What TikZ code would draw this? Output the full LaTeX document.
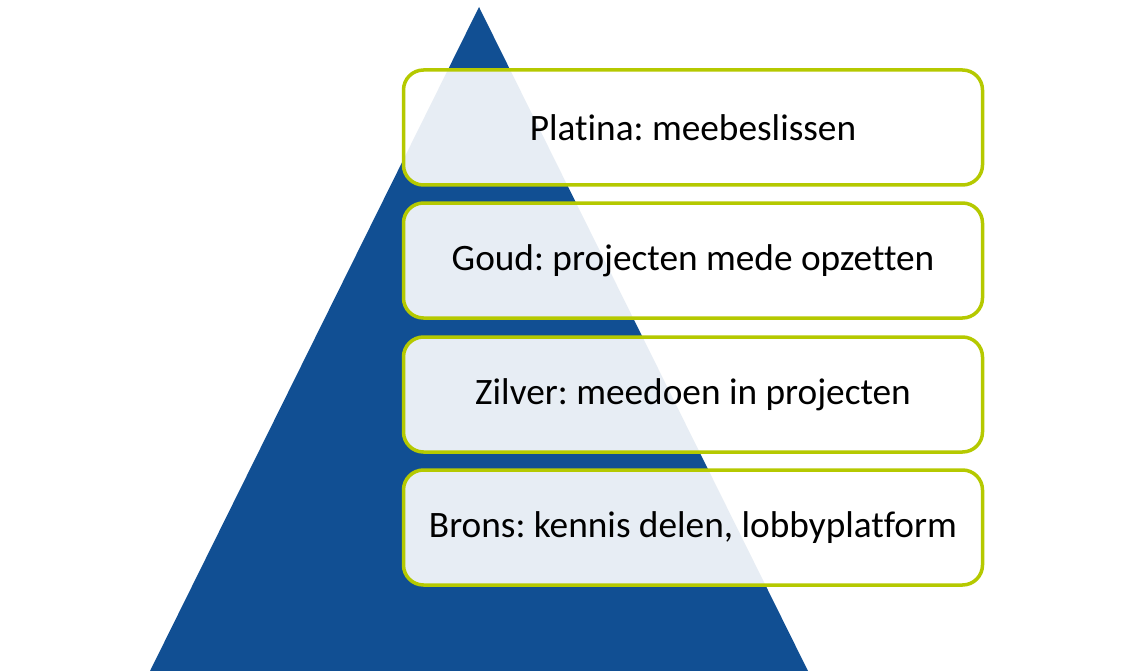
\documentclass[tikz,border=0pt]{standalone}
\usepackage{fontspec}
\setmainfont[Ligatures=NoCommon]{Carlito}
\usetikzlibrary{positioning}
\definecolor{pyramidcolor}{RGB}{17,79,147}
\definecolor{levelcolor}{RGB}{181,201,0}
\tikzset{
    levelbox/.style={draw=levelcolor,line width=3.5pt,rounded corners=20pt,
        fill=white,fill opacity=0.9,text opacity=1,
        minimum width=579pt,minimum height=115pt,inner sep=0pt,
        font=\fontsize{37.3}{42}\selectfont\frenchspacing}
}
\begin{document}
\begin{tikzpicture}[x=1pt,y=-1pt]
    \useasboundingbox (0,0) rectangle (1126,671);
    % Pyramid
    \coordinate (apex) at (479,7);
    \coordinate (baseL) at (150,671);
    \coordinate (baseR) at (808,671);
    \fill[pyramidcolor] (apex) -- (baseL) -- (baseR) -- cycle;

    % Levels
    \foreach \y/\name/\text in {127.5/platina/Platina: meebeslissen,
        260.5/goud/Goud: projecten mede opzetten,
        394.5/zilver/Zilver: meedoen in projecten,
        527.5/brons/{Brons: kennis delen, lobbyplatform}}{
        \node[levelbox] (\name) at (693,\y) {\text};
    }
\end{tikzpicture}
\end{document}
